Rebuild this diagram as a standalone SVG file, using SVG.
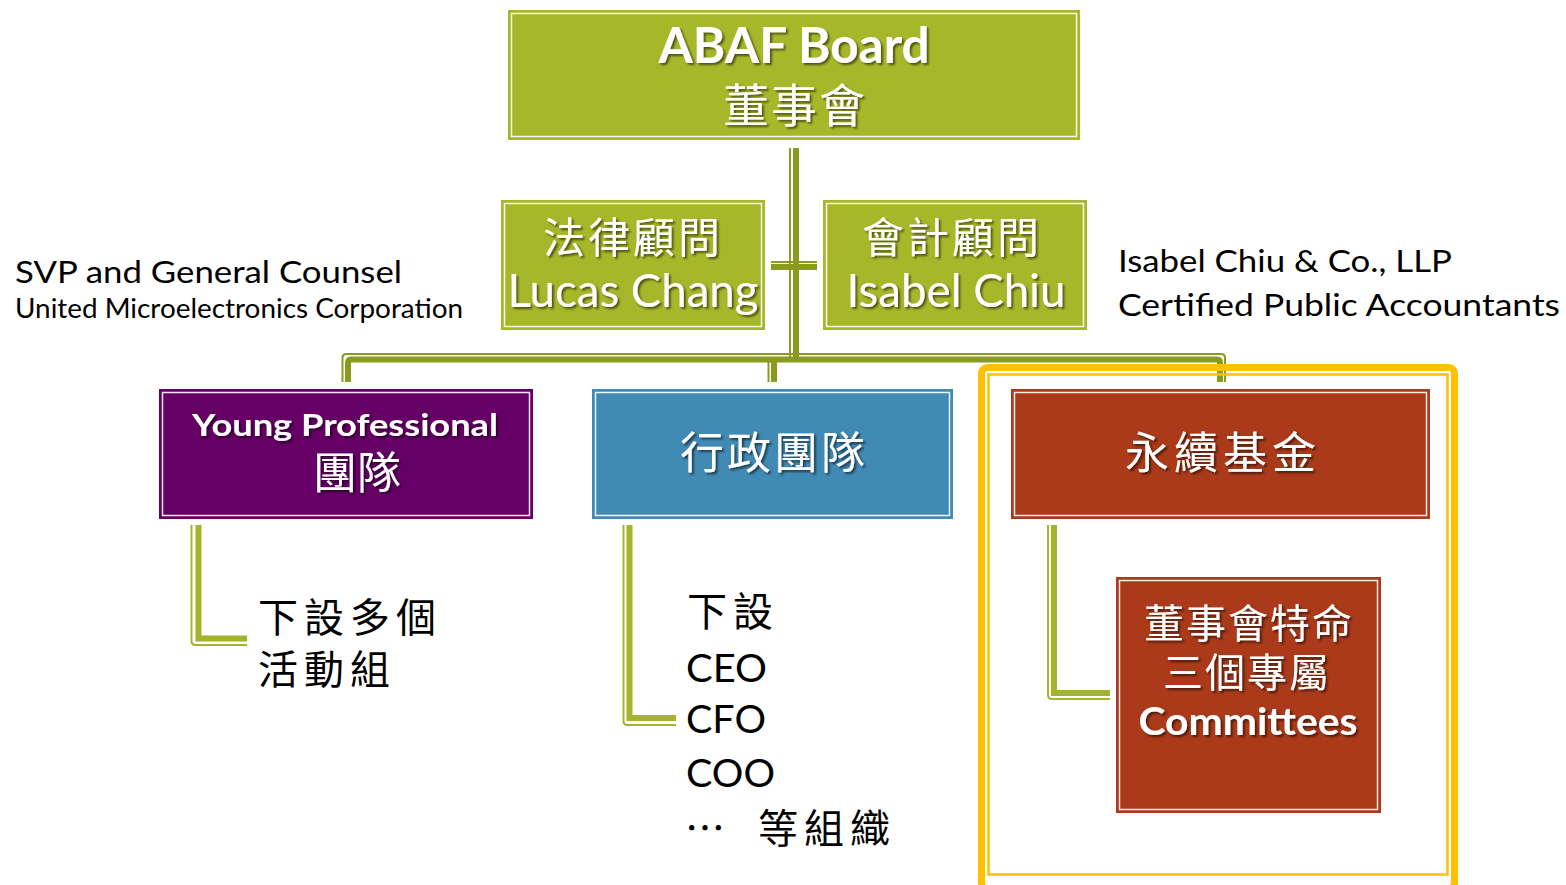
<svg xmlns="http://www.w3.org/2000/svg" width="1566" height="885" viewBox="0 0 1566 885">
<defs>
<filter id="sh" x="-10%" y="-20%" width="120%" height="140%">
<feDropShadow dx="2" dy="2" stdDeviation="1.2" flood-color="#000" flood-opacity="0.55"/>
</filter>
<style>
.bx{stroke:none}
.in{fill:none;stroke:#fff;stroke-width:1.5;stroke-opacity:0.9}
.wl{font-family:Lato,"Open Sans","Liberation Sans",sans-serif;fill:#fff;text-anchor:middle;filter:url(#sh)}
.wc{font-family:"Noto Sans CJK TC","Noto Sans CJK SC",sans-serif;fill:#fff;text-anchor:middle;filter:url(#sh)}
.bl{font-family:Lato,"Open Sans","Liberation Sans",sans-serif;fill:#000}
.bc{font-family:"Noto Sans CJK TC","Noto Sans CJK SC",sans-serif;fill:#000}
.ct{fill:none;stroke:#8A9A1F;stroke-width:6}
.cn{fill:none;stroke:#8A9A1F;stroke-width:2}
.lt{fill:none;stroke:#A3B42A;stroke-width:6}
.ln{fill:none;stroke:#A3B42A;stroke-width:2}
</style>
</defs>
<rect width="1566" height="885" fill="#fff"/>

<g id="connectors">
<line class="cn" x1="790" y1="148" x2="790" y2="358"/>
<line class="ct" x1="796" y1="148" x2="796" y2="360"/>
<line class="cn" x1="771" y1="262" x2="817" y2="262"/>
<line class="ct" x1="771" y1="267" x2="817" y2="267"/>
<path class="cn" d="M342.5,382 V358 Q342.5,354 346.5,354 H1221 Q1225,354 1225,358 V382"/>
<path class="ct" d="M348,382 V363 Q348,359.5 351,359.5 H1217 Q1220,359.5 1220,363 V382"/>
<line class="cn" x1="768.5" y1="362" x2="768.5" y2="382"/>
<line class="ct" x1="774" y1="362" x2="774" y2="382"/>
<path class="ln" d="M191.5,525 V641 Q191.5,645 195.5,645 H247"/>
<path class="lt" d="M198.5,525 V638.5 H247"/>
<path class="ln" d="M623.5,525 V721 Q623.5,725 627.5,725 H676"/>
<path class="lt" d="M629.5,525 V718 H676"/>
<path class="ln" d="M1048,525 V695 Q1048,699 1052,699 H1110"/>
<path class="lt" d="M1054,525 V693 H1110"/>
</g>

<g id="frame">
<rect x="981.5" y="367.5" width="473" height="521" rx="6" fill="none" stroke="#FFC000" stroke-width="7"/>
<rect x="988.5" y="374.5" width="459" height="500" fill="none" stroke="#FFC000" stroke-width="2.5"/>
</g>

<g id="board">
<rect class="bx" x="508" y="10" width="572" height="130" fill="#A6B82A"/>
<rect class="in" x="511.5" y="13.5" width="565" height="123"/>
<text class="wl" x="794" y="63" font-size="50" font-weight="bold" textLength="271" lengthAdjust="spacingAndGlyphs">ABAF Board</text>
<text class="wc" x="795" y="122" font-size="46" letter-spacing="2">董事會</text>
</g>

<g id="legal">
<rect class="bx" x="501" y="200" width="264" height="130" fill="#A6B82A"/>
<rect class="in" x="504.5" y="203.5" width="257" height="123"/>
<text class="wc" x="633" y="253" font-size="42" letter-spacing="3">法律顧問</text>
<text class="wl" x="633" y="307" font-size="46" textLength="251" lengthAdjust="spacingAndGlyphs">Lucas Chang</text>
</g>

<g id="accounting">
<rect class="bx" x="823" y="200" width="264" height="130" fill="#A6B82A"/>
<rect class="in" x="826.5" y="203.5" width="257" height="123"/>
<text class="wc" x="952" y="253" font-size="42" letter-spacing="3">會計顧問</text>
<text class="wl" x="956" y="307" font-size="46" textLength="219" lengthAdjust="spacingAndGlyphs">Isabel Chiu</text>
</g>

<g id="legal-note">
<text class="bl" x="15" y="283" font-size="31" textLength="387" lengthAdjust="spacingAndGlyphs">SVP and General Counsel</text>
<text class="bl" x="15" y="318" font-size="27" textLength="448" lengthAdjust="spacingAndGlyphs">United Microelectronics Corporation</text>
</g>

<g id="accounting-note">
<text class="bl" x="1118" y="272" font-size="31" textLength="334" lengthAdjust="spacingAndGlyphs">Isabel Chiu &amp; Co., LLP</text>
<text class="bl" x="1118" y="316" font-size="31" textLength="442" lengthAdjust="spacingAndGlyphs">Certified Public Accountants</text>
</g>

<g id="young">
<rect class="bx" x="159" y="389" width="374" height="130" fill="#660066"/>
<rect class="in" x="162.5" y="392.5" width="367" height="123"/>
<text class="wl" x="345" y="436" font-size="31" font-weight="bold" textLength="306" lengthAdjust="spacingAndGlyphs">Young Professional</text>
<text class="wc" x="357" y="489" font-size="44">團隊</text>
</g>

<g id="admin">
<rect class="bx" x="592" y="389" width="361" height="130" fill="#418AB4"/>
<rect class="in" x="595.5" y="392.5" width="354" height="123"/>
<text class="wc" x="774" y="469" font-size="44" letter-spacing="3">行政團隊</text>
</g>

<g id="fund">
<rect class="bx" x="1011" y="389" width="419" height="130" fill="#AA3A19"/>
<rect class="in" x="1014.5" y="392.5" width="412" height="123"/>
<text class="wc" x="1223" y="469" font-size="44" letter-spacing="5">永續基金</text>
</g>

<g id="committees">
<rect class="bx" x="1116" y="577" width="265" height="236" fill="#AA3A19"/>
<rect class="in" x="1119.5" y="580.5" width="258" height="229"/>
<text class="wc" x="1249" y="638" font-size="40" letter-spacing="2">董事會特命</text>
<text class="wc" x="1247" y="687" font-size="40" letter-spacing="2">三個專屬</text>
<text class="wl" x="1248" y="735" font-size="38" font-weight="bold" textLength="219" lengthAdjust="spacingAndGlyphs">Committees</text>
</g>

<g id="young-sub">
<text class="bc" x="258" y="632" font-size="40" letter-spacing="6">下設多個</text>
<text class="bc" x="258" y="684" font-size="40" letter-spacing="6">活動組</text>
</g>

<g id="admin-sub">
<text class="bc" x="687" y="626" font-size="40" letter-spacing="6">下設</text>
<text class="bl" x="686" y="682" font-size="38" textLength="81" lengthAdjust="spacingAndGlyphs">CEO</text>
<text class="bl" x="686" y="733" font-size="38" textLength="80" lengthAdjust="spacingAndGlyphs">CFO</text>
<text class="bl" x="686" y="787" font-size="38" textLength="89" lengthAdjust="spacingAndGlyphs">COO</text>
<text class="bc" x="685" y="843" font-size="40">…</text>
<text class="bc" x="758" y="843" font-size="40" letter-spacing="6">等組織</text>
</g>
</svg>
